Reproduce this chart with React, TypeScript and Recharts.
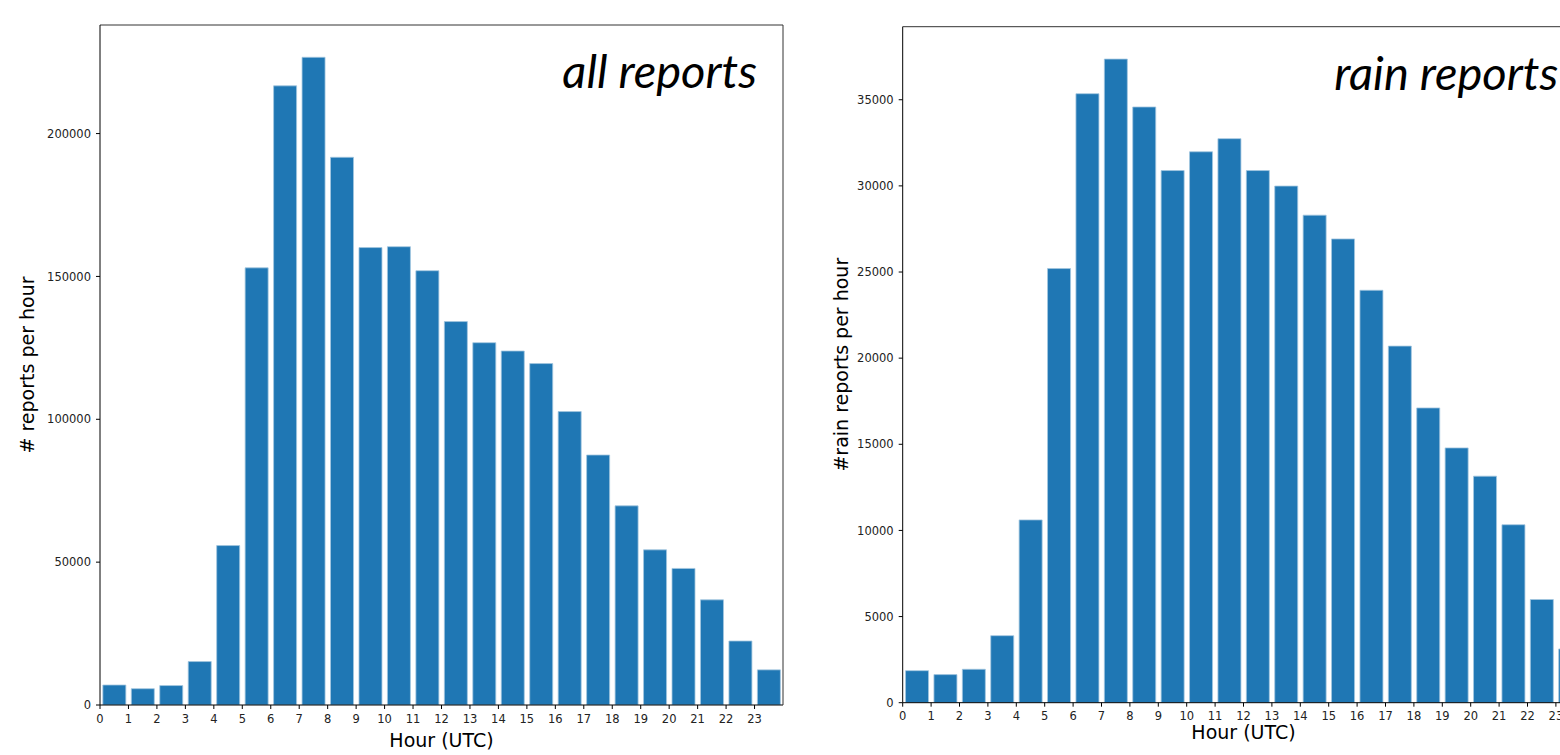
import { BarChart, Bar, XAxis, YAxis, Label } from 'recharts';

// hourly report counts, UTC
const hours = [0, 1, 2, 3, 4, 5, 6, 7, 8, 9, 10, 11, 12, 13, 14, 15, 16, 17, 18, 19, 20, 21, 22, 23];

const allReports = [
  7000, 5700, 6800, 15200, 55800, 153000, 216700, 226700, 191700, 160100, 160400, 152000,
  134200, 126800, 123900, 119500, 102700, 87500, 69700, 54300, 47800, 36800, 22400, 12300,
];

const rainReports = [
  1860, 1630, 1940, 3890, 10610, 25200, 35350, 37360, 34580, 30890, 31980, 32740,
  30890, 29990, 28300, 26920, 23940, 20700, 17110, 14790, 13150, 10330, 5990, 3120,
];

const allTicks = [0, 50000, 100000, 150000, 200000];
const rainTicks = [0, 5000, 10000, 15000, 20000, 25000, 30000, 35000];

const BAR_COLOR = '#1f77b4';
const FONT = '"DejaVu Sans", sans-serif';

interface PanelProps {
  values: number[];
  yMax: number;
  yTicks: number[];
  yLabel: string;
  title: string;
  left: number;
  width: number;
  margin: { top: number; right: number; bottom: number; left: number };
  yAxisWidth: number;
  xAxisHeight: number;
  xTickMargin: number;
  xLabelOffset: number;
  yLabelOffset: number;
}

// big italic caption in the upper right corner of the plot box
const renderTitle = (text: string) => (props: any) => {
  const vb = props.viewBox || {};
  return (
    <text
      x={vb.x + vb.width - 26}
      y={vb.y + vb.height + 63}
      textAnchor="end"
      fontFamily="Lato, 'Open Sans', sans-serif"
      fontStyle="italic"
      fontSize={47}
      fill="#000"
    >
      {text}
    </text>
  );
};

function HourPanel(p: PanelProps) {
  const data = hours.map((h, i) => ({ hour: h, pos: h + 0.5, value: p.values[i] }));
  const tickStyle = { fontSize: 11.5, fill: '#222', fontFamily: FONT };

  return (
    <div style={{ position: 'absolute', left: p.left, top: 0 }}>
      <BarChart width={p.width} height={755} data={data} margin={p.margin} barCategoryGap="10%">
        <XAxis
          dataKey="pos"
          type="number"
          domain={[0, 24]}
          ticks={hours}
          interval={0}
          allowDataOverflow
          height={p.xAxisHeight}
          tick={tickStyle}
          tickSize={4}
          tickMargin={p.xTickMargin}
          axisLine={{ stroke: '#000' }}
          tickLine={{ stroke: '#000' }}
        >
          <Label
            value="Hour (UTC)"
            position="insideBottom"
            offset={p.xLabelOffset}
            fontSize={19}
            fill="#000"
            fontFamily={FONT}
          />
        </XAxis>
        <XAxis
          xAxisId="top"
          orientation="top"
          dataKey="pos"
          type="number"
          domain={[0, 24]}
          height={1}
          tick={false}
          tickLine={false}
          axisLine={{ stroke: '#333' }}
        >
          <Label content={renderTitle(p.title)} />
        </XAxis>
        <YAxis
          type="number"
          domain={[0, p.yMax]}
          ticks={p.yTicks}
          interval={0}
          allowDataOverflow
          width={p.yAxisWidth}
          tick={tickStyle}
          tickSize={4}
          tickMargin={5}
          tickFormatter={(v: number) => String(v)}
          axisLine={{ stroke: '#000' }}
          tickLine={{ stroke: '#000' }}
        >
          <Label
            value={p.yLabel}
            angle={-90}
            position="insideLeft"
            offset={p.yLabelOffset}
            fontSize={19}
            fill="#000"
            fontFamily={FONT}
            style={{ textAnchor: 'middle' }}
          />
        </YAxis>
        <YAxis
          yAxisId="right"
          orientation="right"
          type="number"
          domain={[0, p.yMax]}
          width={1}
          tick={false}
          tickLine={false}
          axisLine={{ stroke: '#333' }}
        />
        <Bar dataKey="value" fill={BAR_COLOR} stroke="#a3c6e0" strokeWidth={0.8} isAnimationActive={false} />
      </BarChart>
    </div>
  );
}

export default function App() {
  return (
    <div
      style={{
        position: 'fixed',
        left: 0,
        top: 0,
        width: 1560,
        height: 755,
        overflow: 'hidden',
        background: '#fff',
      }}
    >
      <HourPanel
        values={allReports}
        yMax={238000}
        yTicks={allTicks}
        yLabel="# reports per hour"
        title="all reports"
        left={0}
        width={810}
        margin={{ top: 24, right: 26, bottom: 0, left: 0 }}
        yAxisWidth={100}
        xAxisHeight={50}
        xTickMargin={6}
        xLabelOffset={8.3}
        yLabelOffset={27}
      />
      <HourPanel
        values={rainReports}
        yMax={39240}
        yTicks={rainTicks}
        yLabel="#rain reports per hour"
        title="rain reports"
        left={800}
        width={800}
        margin={{ top: 25.7, right: 14.7, bottom: 0, left: 0 }}
        yAxisWidth={102.7}
        xAxisHeight={52.3}
        xTickMargin={5}
        xLabelOffset={16.5}
        yLabelOffset={41}
      />
    </div>
  );
}
